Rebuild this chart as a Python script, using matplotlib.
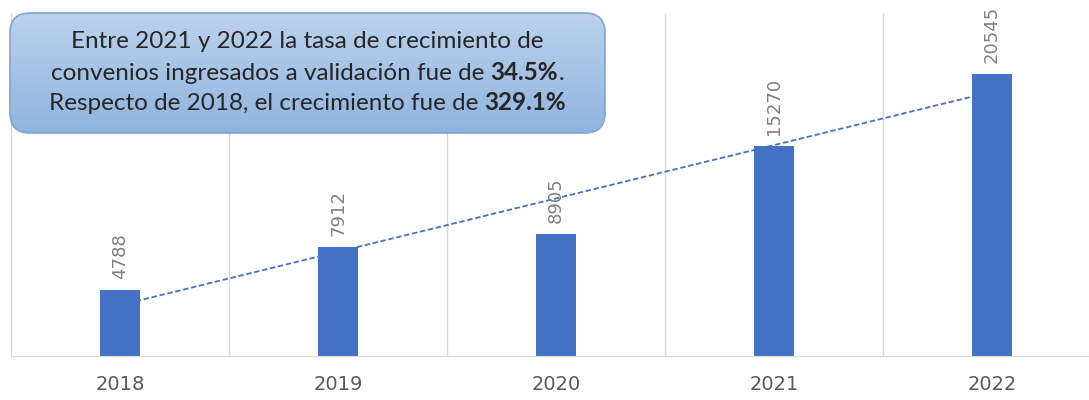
import numpy as np
import matplotlib
matplotlib.use("Agg")
import matplotlib.pyplot as plt
from matplotlib.patches import FancyBboxPatch
from matplotlib.colors import LinearSegmentedColormap
from matplotlib.transforms import IdentityTransform

years = ["2018", "2019", "2020", "2021", "2022"]
convenios = [4788, 7912, 8905, 15270, 20545]
note_lines = [
    [("Entre 2021 y 2022 la tasa de crecimiento de", "normal")],
    [("convenios ingresados a validación fue de ", "normal"), ("34.5%", "bold"), (".", "normal")],
    [("Respecto de 2018, el crecimiento fue de ", "normal"), ("329.1%", "bold")],
]

W, H = 1089, 400
fig = plt.figure(figsize=(W / 100, H / 100), dpi=100)
# plot area: left edge at px 11, baseline at px 356, top at px 13 (right edge runs off the picture)
ax = fig.add_axes([11 / W, (H - 356) / H, 1090 / W, 343 / H])

x = np.arange(len(years))
y = np.array(convenios)

# linear trend, drawn behind the bars
k, b = np.polyfit(x, y, 1)
ax.plot(x, k * x + b, ls=(0, (3, 1.5)), lw=1.3, color="#4472C4", zorder=1)

ax.bar(x, y, width=0.185, color="#4472C4", zorder=2)
for xi, yi in zip(x, y):
    ax.annotate(str(yi), (xi, yi), xytext=(0, 8), textcoords="offset points",
                rotation=90, ha="center", va="bottom", fontsize=13, color="#808080")

ax.set_xlim(-0.5, 4.5)
ax.set_ylim(0, 25000)
ax.set_yticks([])
ax.set_xticks(x)
ax.set_xticklabels(years, fontsize=14, color="#595959")
ax.tick_params(axis="x", length=0, pad=14)
for xv in np.arange(-0.5, 4.6, 1):
    ax.axvline(xv, color="#d9d9d9", lw=1, zorder=0)
for s in ["top", "right", "left"]:
    ax.spines[s].set_visible(False)
ax.spines["bottom"].set_color("#d9d9d9")

# note box with vertical gradient (pixel coords, origin bottom-left)
px0, py0, px1, py1 = 10, H - 133, 605, H - 13
box = FancyBboxPatch((px0, py0), px1 - px0, py1 - py0,
                     boxstyle="round,pad=0,rounding_size=20",
                     transform=IdentityTransform(),
                     facecolor="none", edgecolor="#7ea5d6", lw=1.2, zorder=5)
grad_ax = fig.add_axes([0, 0, 1, 1], facecolor="none")
grad_ax.set_axis_off()
grad_ax.set_xlim(0, W)
grad_ax.set_ylim(0, H)
cmap = LinearSegmentedColormap.from_list("boxgrad", ["#8fb4df", "#bcd2ec"])
img = grad_ax.imshow(np.linspace(0, 1, 256).reshape(-1, 1), cmap=cmap, aspect="auto",
                     origin="lower", extent=[px0, px1, py0, py1], zorder=4)
grad_ax.add_patch(box)
img.set_clip_path(box)

renderer = fig.canvas.get_renderer()
cx = (px0 + px1) / 2
line_y = [H - 42, H - 73, H - 103]
for segs, ly in zip(note_lines, line_y):
    texts = []
    for s, wt in segs:
        t = grad_ax.text(0, ly, s, fontsize=17.5, fontweight=wt, family="Lato",
                         color="#262626", va="center", ha="left", zorder=6)
        texts.append(t)
    widths = [t.get_window_extent(renderer).width for t in texts]
    pos = cx - sum(widths) / 2
    for t, w in zip(texts, widths):
        t.set_x(pos)
        pos += w

fig.savefig("out.png", dpi=100)
